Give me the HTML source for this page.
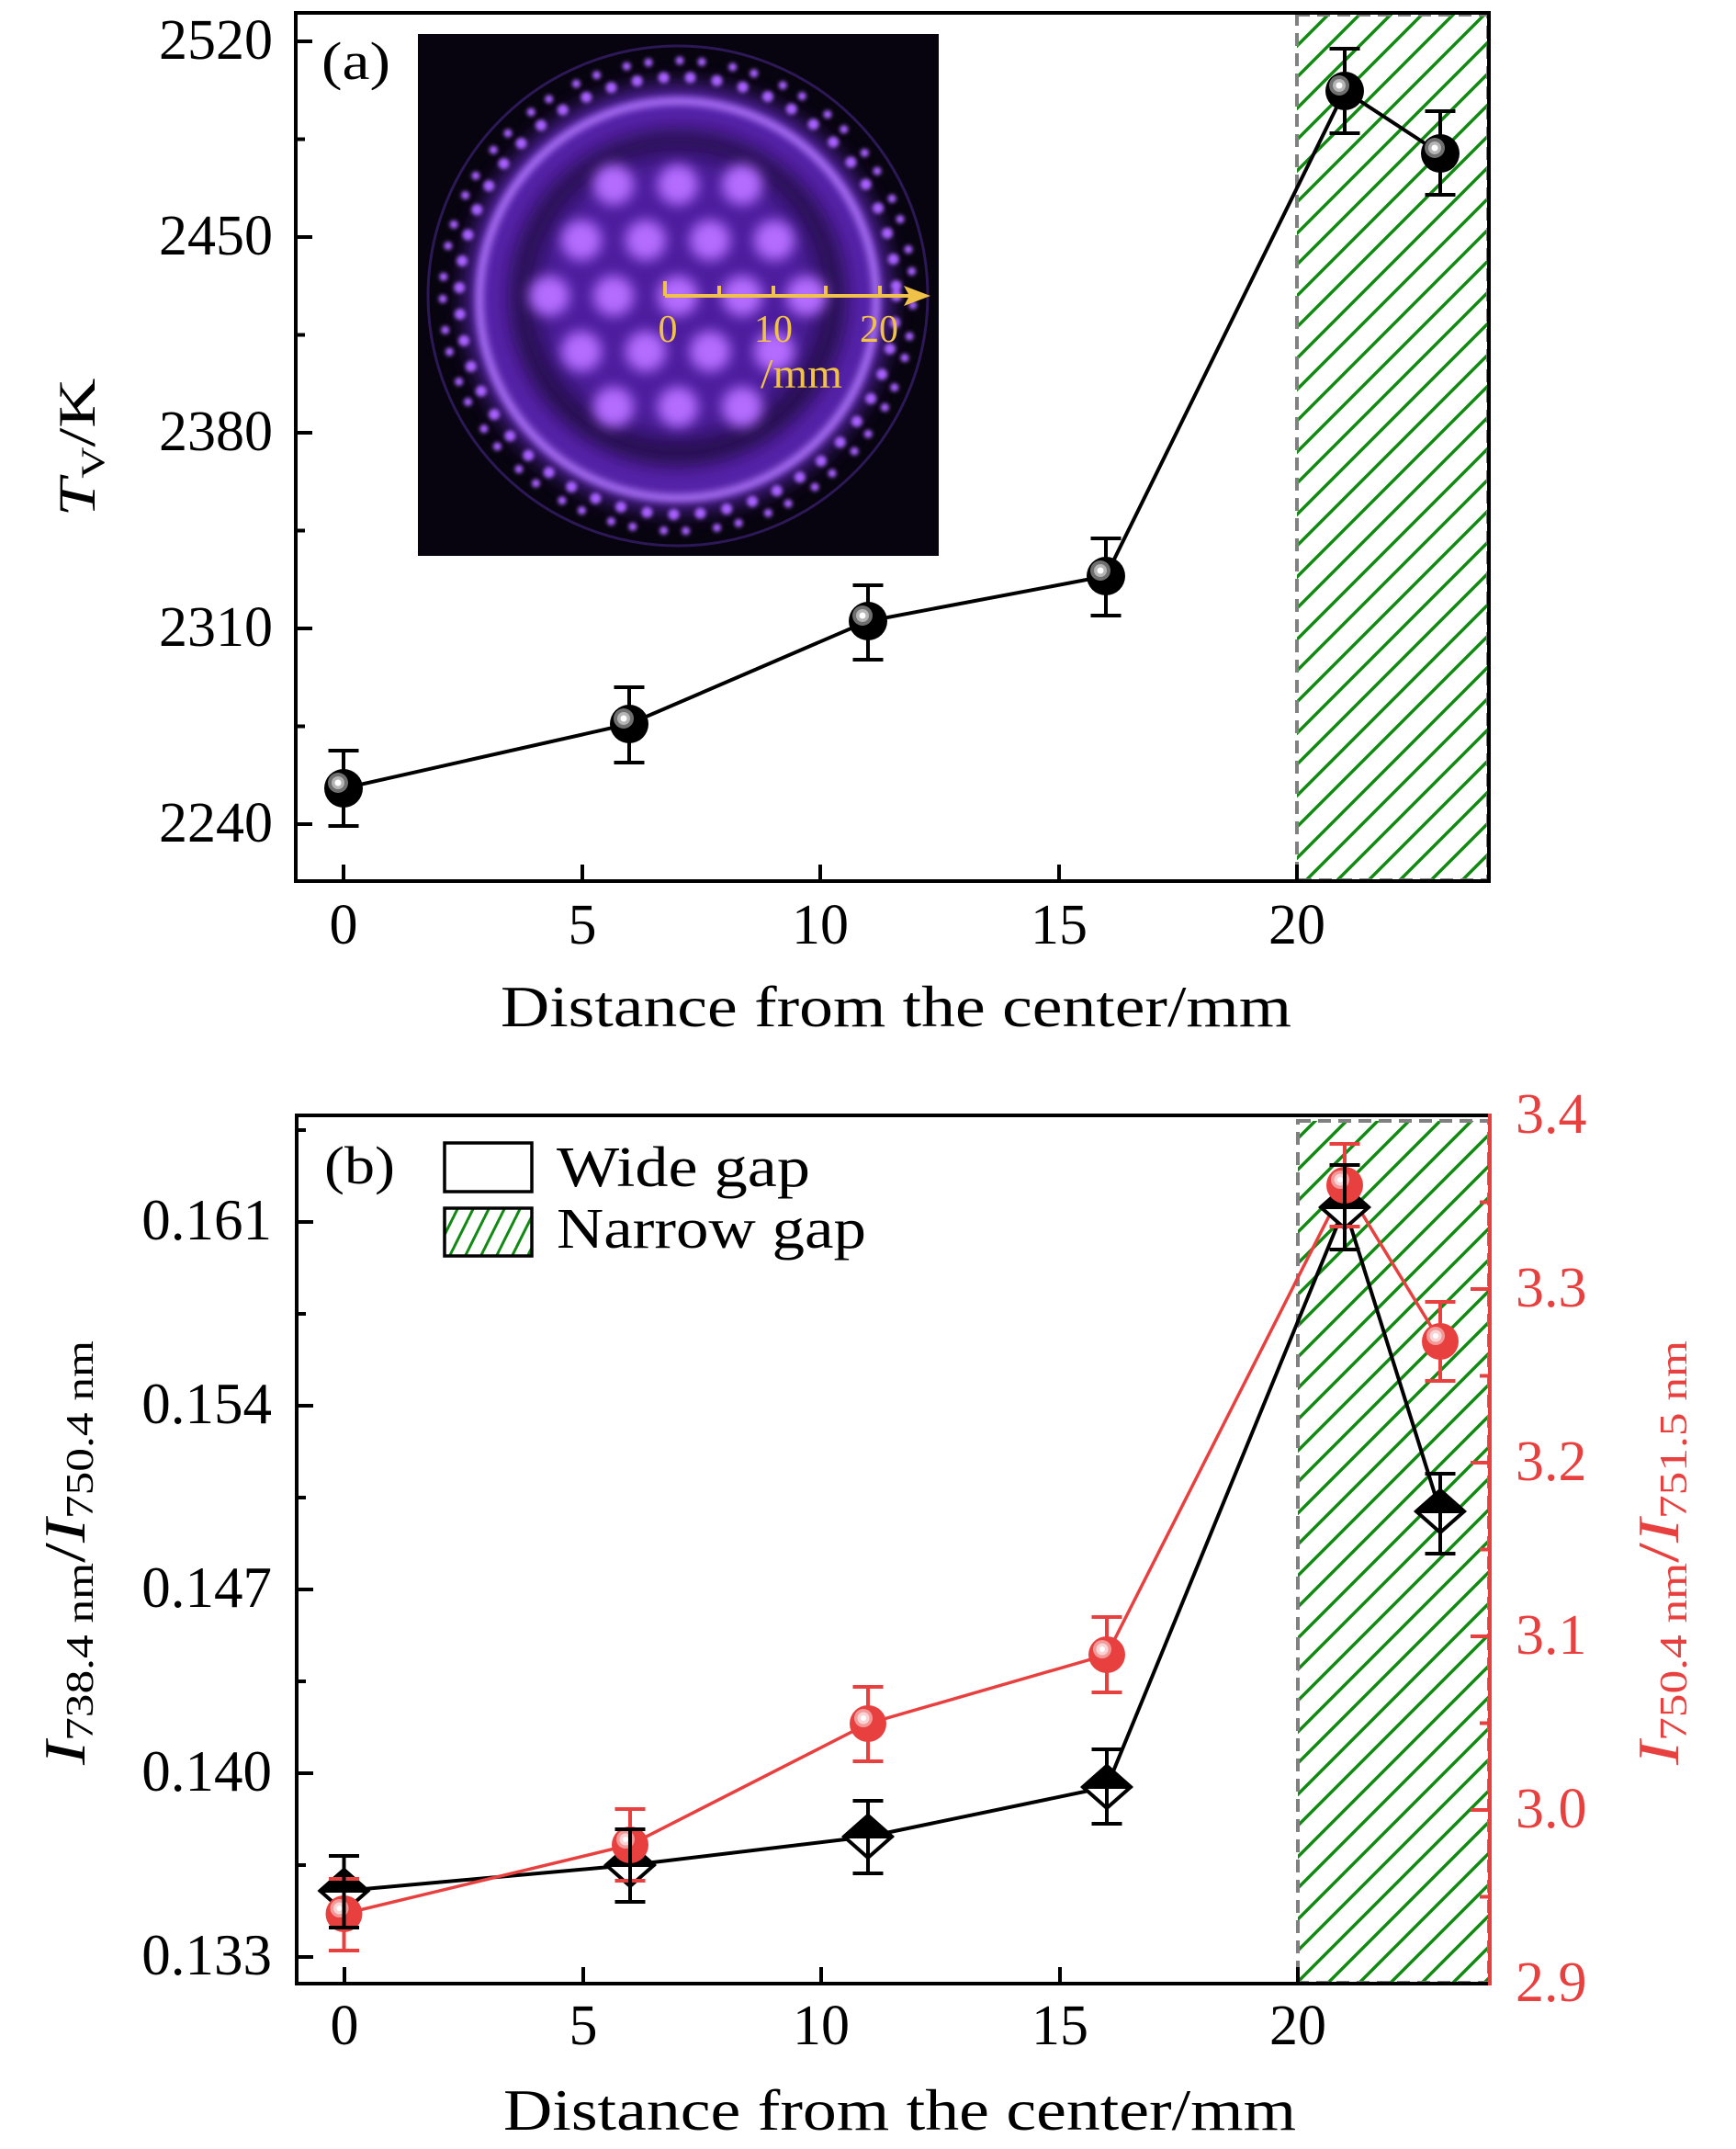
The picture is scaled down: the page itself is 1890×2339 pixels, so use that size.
<!DOCTYPE html>
<html>
<head>
<meta charset="utf-8">
<style>
html,body{margin:0;padding:0;background:#fff;}
svg{display:block;}
</style>
</head>
<body>
<svg width="1890" height="2339" viewBox="0 0 1890 2339" xmlns="http://www.w3.org/2000/svg" font-family="'Liberation Serif', serif">
<defs>
  <pattern id="hatch" patternUnits="userSpaceOnUse" width="34" height="34">
    <path d="M-2,36 L36,-2 M-2,2 L2,-2 M32,36 L36,32" stroke="#118a11" stroke-width="3.5" fill="none"/>
  </pattern>
  <pattern id="hatchL" patternUnits="userSpaceOnUse" width="17" height="34">
    <path d="M-1,36 L18,-2 M-1,2 L1,-2 M16,36 L18,32" stroke="#118a11" stroke-width="3" fill="none"/>
  </pattern>
  <filter id="b2" x="-20%" y="-20%" width="140%" height="140%"><feGaussianBlur stdDeviation="2"/></filter>
  <filter id="b4" x="-20%" y="-20%" width="140%" height="140%"><feGaussianBlur stdDeviation="4"/></filter>
  <filter id="b7" x="-50%" y="-50%" width="200%" height="200%"><feGaussianBlur stdDeviation="7"/></filter>
  <filter id="b12" x="-30%" y="-30%" width="160%" height="160%"><feGaussianBlur stdDeviation="12"/></filter>
  <filter id="b18" x="-40%" y="-40%" width="180%" height="180%"><feGaussianBlur stdDeviation="18"/></filter>
  <clipPath id="ic"><rect x="455" y="37" width="567" height="568"/></clipPath>
  <g id="ballk">
    <circle r="21" fill="#000"/>
    <circle cx="-6" cy="-6" r="11" fill="#6f6f6f"/>
    <circle cx="-6" cy="-6" r="7" fill="#b5b5b5"/>
    <circle cx="-6" cy="-6" r="3.5" fill="#fff"/>
  </g>
  <g id="ballr">
    <circle r="20" fill="#e8403f"/>
    <circle cx="-5" cy="-6" r="10" fill="#f29a9a"/>
    <circle cx="-5" cy="-6" r="6.5" fill="#fad4d4"/>
    <circle cx="-5" cy="-6" r="3" fill="#fff"/>
  </g>
  <g id="dia">
    <polygon points="-26,0 0,-23 26,0 0,23" fill="#fff" stroke="#000" stroke-width="4"/>
    <polygon points="-26,0 0,-23 26,0" fill="#000" stroke="#000" stroke-width="4" stroke-linejoin="round"/>
  </g>
</defs>

<!-- ================= PANEL (a) ================= -->
<rect x="1412" y="16" width="208" height="942" fill="url(#hatch)"/>
<rect x="1412" y="16" width="208" height="942" fill="none" stroke="#808080" stroke-width="4" stroke-dasharray="14 8"/>

<!-- inset image -->
<g clip-path="url(#ic)">
  <rect x="455" y="37" width="567" height="568" fill="#07040f"/>
  <circle cx="738" cy="322" r="272" fill="none" stroke="#2c1856" stroke-width="3"/>
  <circle cx="738" cy="324" r="205" fill="none" stroke="#6a2ad0" stroke-width="52" opacity="0.8" filter="url(#b12)"/>
  <circle cx="738" cy="326" r="216" fill="none" stroke="#b277ff" stroke-width="8" filter="url(#b4)"/>
  <circle cx="738" cy="322" r="165" fill="#5a22b8" opacity="0.85" filter="url(#b18)"/>
  <g fill="#b46cff" filter="url(#b7)">
    <circle cx="668" cy="201" r="22"/><circle cx="738" cy="201" r="22"/><circle cx="808" cy="201" r="22"/>
    <circle cx="633" cy="261.5" r="22"/><circle cx="703" cy="261.5" r="22"/><circle cx="773" cy="261.5" r="22"/><circle cx="843" cy="261.5" r="22"/>
    <circle cx="598" cy="322" r="22"/><circle cx="668" cy="322" r="22"/><circle cx="738" cy="322" r="22"/><circle cx="808" cy="322" r="22"/><circle cx="878" cy="322" r="22"/>
    <circle cx="633" cy="382.5" r="22"/><circle cx="703" cy="382.5" r="22"/><circle cx="773" cy="382.5" r="22"/><circle cx="843" cy="382.5" r="22"/>
    <circle cx="668" cy="443" r="22"/><circle cx="738" cy="443" r="22"/><circle cx="808" cy="443" r="22"/>
  </g>
  <circle cx="738" cy="322" r="238" fill="none" stroke="#a860ff" stroke-width="12" stroke-dasharray="0.1 29" stroke-linecap="round" filter="url(#b2)"/>
  <circle cx="738" cy="322" r="256" fill="none" stroke="#a860ff" stroke-width="9" stroke-dasharray="0.1 24 0.1 34" stroke-dashoffset="14" stroke-linecap="round" filter="url(#b2)"/>
</g>
<!-- scale arrow -->
<g stroke="#f0c248" stroke-width="4" fill="none">
  <path d="M724,322 H992"/>
  <path d="M724,306 V322 M783,311 V322 M842,311 V322 M899,311 V322 M958,311 V322"/>
</g>
<polygon points="1013,322 984,311 990,322 984,333" fill="#f0c248"/>
<g fill="#f0c248" font-size="42" text-anchor="middle">
  <text x="727" y="372">0</text>
  <text x="842" y="372">10</text>
  <text x="957" y="372">20</text>
</g>
<text x="828" y="422" font-size="46" fill="#f0c248" textLength="89" lengthAdjust="spacingAndGlyphs">/mm</text>

<!-- data (a) -->
<path d="M374,858 L685,788 L945,676 L1204,627 L1464,99 L1568,167" fill="none" stroke="#000" stroke-width="4"/>
<path d="M374,817V899M357.5,817h33M357.5,899h33 M685,748V830M668.5,748h33M668.5,830h33 M945,637V718M928.5,637h33M928.5,718h33 M1204,586V670M1187.5,586h33M1187.5,670h33 M1464,53V145M1447.5,53h33M1447.5,145h33 M1568,121V212M1551.5,121h33M1551.5,212h33" fill="none" stroke="#000" stroke-width="4"/>
<use href="#ballk" x="374" y="858"/>
<use href="#ballk" x="685" y="788"/>
<use href="#ballk" x="945" y="676"/>
<use href="#ballk" x="1204" y="627"/>
<use href="#ballk" x="1464" y="99"/>
<use href="#ballk" x="1568" y="167"/>

<!-- frame (a) -->
<rect x="322" y="14" width="1299" height="945" fill="none" stroke="#000" stroke-width="4"/>
<path d="M322,45h18 M322,258h18 M322,471h18 M322,684h18 M322,897h18 M322,151.5h10 M322,364.5h10 M322,577.5h10 M322,790.5h10 M374,959v-18 M634,959v-18 M893,959v-18 M1153,959v-18 M1412,959v-18" stroke="#000" stroke-width="4" fill="none"/>

<!-- tick labels (a) -->
<g font-size="62" text-anchor="end" fill="#000">
  <text x="297" y="64">2520</text>
  <text x="297" y="277">2450</text>
  <text x="297" y="490">2380</text>
  <text x="297" y="703">2310</text>
  <text x="297" y="916">2240</text>
</g>
<g font-size="62" text-anchor="middle" fill="#000">
  <text x="374" y="1027">0</text>
  <text x="634" y="1027">5</text>
  <text x="893" y="1027">10</text>
  <text x="1153" y="1027">15</text>
  <text x="1412" y="1027">20</text>
</g>
<text x="545" y="1117" font-size="63" textLength="861" lengthAdjust="spacingAndGlyphs">Distance from the center/mm</text>
<text transform="translate(103,487) rotate(-90)" text-anchor="middle" font-size="57" textLength="151" lengthAdjust="spacingAndGlyphs"><tspan font-style="italic">T</tspan><tspan font-size="36" dy="10">V</tspan><tspan dy="-10">/K</tspan></text>
<text x="350" y="86" font-size="58" textLength="75" lengthAdjust="spacingAndGlyphs">(a)</text>

<!-- ================= PANEL (b) ================= -->
<rect x="1413" y="1220" width="208" height="938" fill="url(#hatch)"/>
<rect x="1413" y="1220" width="208" height="938" fill="none" stroke="#808080" stroke-width="4" stroke-dasharray="14 8"/>

<path d="M374.5,2058 L686,2030 L945,1999 L1205,1945 L1464,1314 L1568,1645" fill="none" stroke="#000" stroke-width="4"/>
<path d="M374.5,2083 L686,2008 L945,1876 L1205,1801 L1464,1290 L1568,1460" fill="none" stroke="#e8403f" stroke-width="3.5"/>
<use href="#dia" x="374.5" y="2058"/>
<use href="#dia" x="686" y="2030"/>
<use href="#dia" x="945" y="1999"/>
<use href="#dia" x="1205" y="1945"/>
<use href="#dia" x="1464" y="1314"/>
<use href="#dia" x="1568" y="1645"/>
<path d="M374.5,2045V2123M358,2045h33M358,2123h33 M686,1969V2047M669.5,1969h33M669.5,2047h33 M945,1836V1917M928.5,1836h33M928.5,1917h33 M1205,1760V1842M1188.5,1760h33M1188.5,1842h33 M1464,1245V1335M1447.5,1245h33M1447.5,1335h33 M1568,1417V1503M1551.5,1417h33M1551.5,1503h33" fill="none" stroke="#e8403f" stroke-width="4"/>
<use href="#ballr" x="374.5" y="2083"/>
<use href="#ballr" x="686" y="2008"/>
<use href="#ballr" x="945" y="1876"/>
<use href="#ballr" x="1205" y="1801"/>
<use href="#ballr" x="1464" y="1290"/>
<use href="#ballr" x="1568" y="1460"/>
<path d="M374.5,2020V2098M358,2020h33M358,2098h33 M686,1991V2070M669.5,1991h33M669.5,2070h33 M945,1960V2039M928.5,1960h33M928.5,2039h33 M1205,1904V1985M1188.5,1904h33M1188.5,1985h33 M1464,1268V1360M1447.5,1268h33M1447.5,1360h33 M1568,1604V1691M1551.5,1604h33M1551.5,1691h33" fill="none" stroke="#000" stroke-width="4"/>

<!-- frame (b) -->
<path d="M1622,1214 H323 V2159 H1622" fill="none" stroke="#000" stroke-width="4"/>
<path d="M1622,1212 V2161" fill="none" stroke="#e8403f" stroke-width="4"/>
<path d="M323,1330h18 M323,1530h18 M323,1730h18 M323,1930h18 M323,2130h18 M323,1230h10 M323,1430h10 M323,1630h10 M323,1830h10 M323,2030h10 M375,2159v-18 M635,2159v-18 M894,2159v-18 M1154,2159v-18 M1413,2159v-18" stroke="#000" stroke-width="4" fill="none"/>
<path d="M1622,1403h-21 M1622,1592h-21 M1622,1781h-21 M1622,1970h-21 M1622,1308.5h-11 M1622,1497.5h-11 M1622,1686.5h-11 M1622,1875.5h-11 M1622,2064.5h-11" stroke="#e8403f" stroke-width="4" fill="none"/>

<!-- legend -->
<rect x="484" y="1244" width="95" height="53" fill="#fff" stroke="#000" stroke-width="3.5"/>
<rect x="484" y="1315" width="95" height="52" fill="url(#hatchL)" stroke="#000" stroke-width="3.5"/>
<text x="606" y="1291" font-size="62" textLength="276" lengthAdjust="spacingAndGlyphs">Wide gap</text>
<text x="606" y="1358" font-size="62" textLength="337" lengthAdjust="spacingAndGlyphs">Narrow gap</text>
<text x="353" y="1288" font-size="58" textLength="77" lengthAdjust="spacingAndGlyphs">(b)</text>

<!-- tick labels (b) -->
<g font-size="63" text-anchor="end" fill="#000">
  <text x="296" y="1349">0.161</text>
  <text x="296" y="1549">0.154</text>
  <text x="296" y="1749">0.147</text>
  <text x="296" y="1949">0.140</text>
  <text x="296" y="2149">0.133</text>
</g>
<g font-size="62" fill="#e8403f">
  <text x="1650" y="1233">3.4</text>
  <text x="1650" y="1422">3.3</text>
  <text x="1650" y="1611">3.2</text>
  <text x="1650" y="1800">3.1</text>
  <text x="1650" y="1989">3.0</text>
  <text x="1650" y="2178">2.9</text>
</g>
<g font-size="62" text-anchor="middle" fill="#000">
  <text x="375" y="2225">0</text>
  <text x="635" y="2225">5</text>
  <text x="894" y="2225">10</text>
  <text x="1154" y="2225">15</text>
  <text x="1413" y="2225">20</text>
</g>
<text x="548" y="2318" font-size="63" textLength="863" lengthAdjust="spacingAndGlyphs">Distance from the center/mm</text>

<text transform="translate(92,1690) rotate(-90)" text-anchor="middle" font-size="64" textLength="462" lengthAdjust="spacingAndGlyphs"><tspan font-style="italic">I</tspan><tspan font-size="42" dy="9">738.4 nm</tspan><tspan dy="-9">/</tspan><tspan font-style="italic">I</tspan><tspan font-size="42" dy="9">750.4 nm</tspan></text>
<text transform="translate(1827,1690) rotate(-90)" text-anchor="middle" font-size="64" fill="#e8403f" textLength="462" lengthAdjust="spacingAndGlyphs"><tspan font-style="italic">I</tspan><tspan font-size="42" dy="9">750.4 nm</tspan><tspan dy="-9">/</tspan><tspan font-style="italic">I</tspan><tspan font-size="42" dy="9">751.5 nm</tspan></text>
</svg>
</body>
</html>
